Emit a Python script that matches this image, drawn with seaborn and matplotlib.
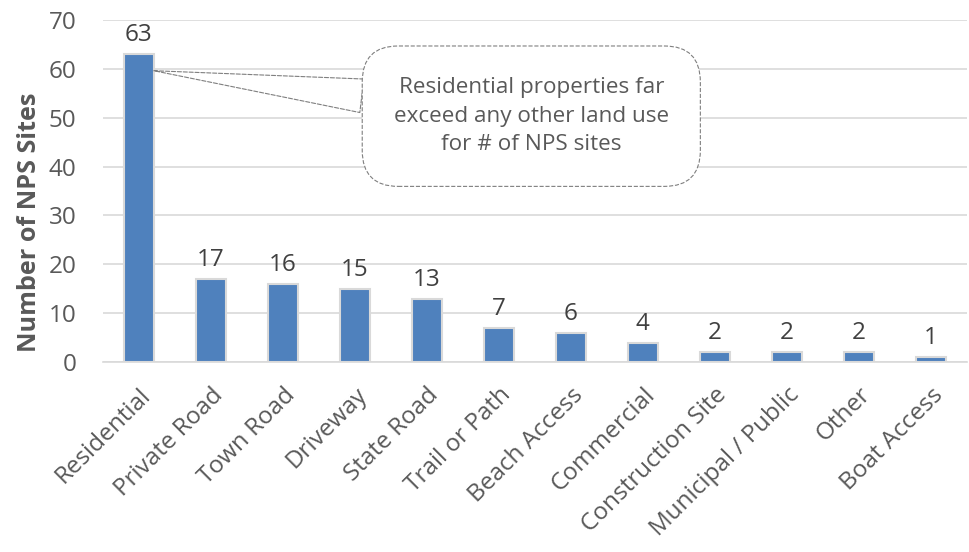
import pandas as pd
import matplotlib.pyplot as plt
import seaborn as sns

categories = ["Residential", "Private Road", "Town Road", "Driveway", "State Road",
              "Trail or Path", "Beach Access", "Commercial", "Construction Site",
              "Municipal / Public", "Other", "Boat Access"]
sites = [63, 17, 16, 15, 13, 7, 6, 4, 2, 2, 2, 1]
callout = "Residential properties far\nexceed any other land use\nfor # of NPS sites"

sns.set_theme(style="white")
plt.rcParams['font.family'] = ['Open Sans', 'DejaVu Sans']
text_color = "#595959"

df = pd.DataFrame({"Land Use": categories, "Sites": sites})

fig = plt.figure(figsize=(9.69, 5.52), dpi=100)
ax = fig.add_axes([0.106, 0.344, 0.892, 0.62])

sns.barplot(data=df, x="Land Use", y="Sites", color="#4F81BD", saturation=1,
            width=0.42, edgecolor="#D9D9D9", linewidth=1.5, ax=ax, zorder=3)
ax.bar_label(ax.containers[0], padding=5, fontsize=17.5, color="#404040")

ax.set_ylim(0, 70)
ax.set_xlim(-0.5, len(categories) - 0.5)
ax.set_yticks(range(0, 71, 10))
ax.yaxis.grid(True, color="#D9D9D9", linewidth=1.2, zorder=0)
ax.set_axisbelow(True)
for s in ["top", "right", "left"]:
    ax.spines[s].set_visible(False)
ax.spines["bottom"].set_color("#D9D9D9")
ax.spines["bottom"].set_linewidth(1.2)
ax.tick_params(axis="both", length=0, labelsize=17.5, labelcolor=text_color)
ax.tick_params(axis="y", pad=19)
ax.tick_params(axis="x", pad=15)
plt.setp(ax.get_xticklabels(), rotation=45, ha="right", rotation_mode="anchor")
ax.set_xlabel("")
ax.set_ylabel("Number of NPS Sites", fontsize=18.2, fontweight="bold", color=text_color)
ax.yaxis.set_label_coords(-0.07, 0.41)

# callout bubble with dashed wedge pointing at the Residential bar
ax.annotate(callout, xy=(0.21, 59.6), xytext=(5.45, 50.3), ha="center", va="center",
            fontsize=16.2, color=text_color, linespacing=1.45,
            bbox=dict(boxstyle="round,pad=1.4,rounding_size=1.6", fc="white",
                      ec="#7F7F7F", ls="--", lw=0.8),
            arrowprops=dict(arrowstyle="wedge,tail_width=1.5", fc="white",
                            ec="#7F7F7F", ls="--", lw=0.8, shrinkA=0, shrinkB=0),
            zorder=5)

plt.savefig("out.png", dpi=100)
